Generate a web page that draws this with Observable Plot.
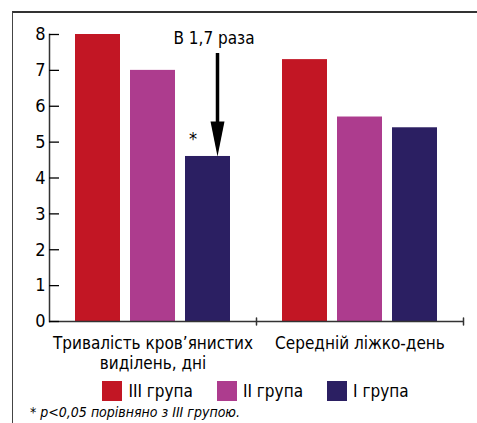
<!DOCTYPE html>
<html><head><meta charset="utf-8">
<script src="https://cdn.jsdelivr.net/npm/d3@7"></script>
<script src="https://cdn.jsdelivr.net/npm/@observablehq/plot@0.6"></script>
<style>
html,body{margin:0;padding:0;background:#fff;}
#wrap{position:relative;width:477px;height:423px;overflow:hidden;font-family:"Liberation Sans Narrow","DejaVu Sans Condensed",sans-serif;color:#000;}
#frame{position:absolute;left:12px;top:11px;right:-2px;bottom:-2px;border-top:2px solid #333;border-left:1.5px solid #444;}
#chart{position:absolute;left:0;top:0;}
#legend{position:absolute;left:48px;top:381px;width:415px;}
#legend .lg-swatches{font-family:"Liberation Sans Narrow","DejaVu Sans Condensed",sans-serif;font-size:17px;color:#000;justify-content:center;min-height:0;margin:0;}
#legend .lg-swatch{margin-right:24px;}
#legend .lg-swatch:last-child{margin-right:0;}
#legend .lg-swatch > svg{margin-right:6px;}
#note{position:absolute;left:30px;top:404px;font-style:italic;font-size:14px;white-space:nowrap;}
</style>
</head><body>
<div id="wrap"><div id="frame"></div><div id="chart"></div><div id="legend"></div><div id="note"></div></div>
<script>
const categories = ["Тривалість кров’янистих\nвиділень, дні", "Середній ліжко-день"];
const groups = ["III група", "II група", "I група"];
const colors = ["#c21624", "#ad3c8e", "#2b1f62"];
const valuesIII = [8, 7.3];
const valuesII = [7, 5.7];
const valuesI = [4.6, 5.4];
const yTicks = [0, 1, 2, 3, 4, 5, 6, 7, 8];
const annotations = [{cat: categories[0], group: "I група", label: "В 1,7 раза", top: 8, from: 7.47, to: 4.6}];
const stars = [{cat: categories[0], group: "I група", value: 4.6, text: "*"}];
const note = "* p<0,05 порівняно з III групою.";

const series = [valuesIII, valuesII, valuesI];
const table = categories.flatMap((c, i) => groups.map((g, j) => ({cat: c, group: g, value: series[j][i]})));

const font = '"Liberation Sans Narrow","DejaVu Sans Condensed",sans-serif';
const tickUp = {draw(ctx, l) { ctx.moveTo(0, 0); ctx.lineTo(0, -l); }};
const arrowHead = {draw(ctx, l) { ctx.moveTo(0, -l); ctx.lineTo(-7, 0); ctx.lineTo(7, 0); ctx.closePath(); }};

const chart = Plot.plot({
  width: 477, height: 372,
  marginLeft: 48, marginRight: 14, marginTop: 34, marginBottom: 51,
  style: {fontFamily: font, color: "#000", background: "transparent", overflow: "visible"},
  fx: {domain: categories, padding: 0},
  x: {domain: groups, paddingInner: 0.18, paddingOuter: 0.46, axis: null},
  y: {domain: [0, 8]},
  color: {domain: groups, range: colors},
  marks: [
    Plot.barY(table, {fx: "cat", x: "group", y: "value", fill: "group"}),
    Plot.ruleY([0], {stroke: "#333", strokeWidth: 1.5}),
    Plot.frame({anchor: "left", facetAnchor: "left", stroke: "#333", strokeWidth: 1.5}),
    Plot.vector([0], {frameAnchor: "bottom-right", length: 7, shape: tickUp, stroke: "#333", strokeWidth: 1.5}),
    Plot.axisY({ticks: yTicks, tickSize: 10, dx: 10, tickPadding: 4, fontSize: 18, label: null, strokeWidth: 1.3}),
    Plot.axisFx({anchor: "bottom", tickSize: 0, tickPadding: 13, fontSize: 17, lineHeight: 1.18, label: null}),
    Plot.ruleX(annotations, {fx: "cat", x: "group", y1: "from", y2: d => d.to + 0.5, dx: 9.5, strokeWidth: 3.5, stroke: "#000"}),
    Plot.vector(annotations, {fx: "cat", x: "group", y: "to", dx: 9.5, anchor: "end", rotate: 180, length: 35, shape: arrowHead, fill: "#000", stroke: "none"}),
    Plot.text(annotations, {fx: "cat", x: "group", y: "top", text: "label", dx: 6, dy: 4, fontSize: 17}),
    Plot.text(stars, {fx: "cat", x: "group", y: "value", text: "text", dx: -15, dy: -17, fontSize: 18})
  ]
});
document.getElementById("chart").appendChild(chart);
document.getElementById("legend").appendChild(chart.legend("color", {swatchSize: 20, className: "lg"}));
document.getElementById("note").textContent = note;
</script>
</body></html>
